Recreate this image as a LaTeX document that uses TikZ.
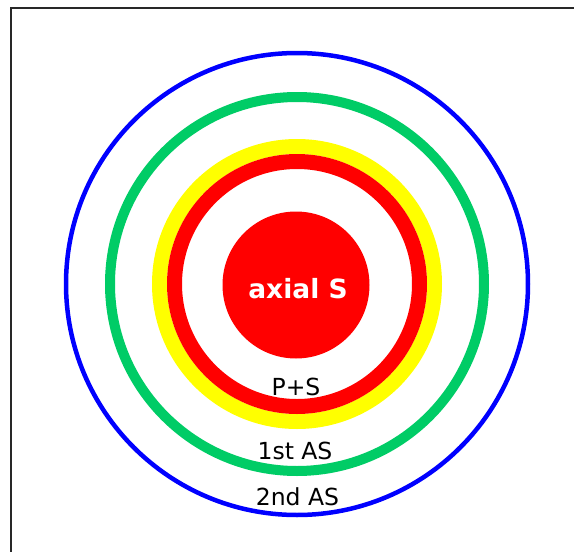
\documentclass[tikz,border=0pt]{standalone}
\usepackage{fontspec}
\setmainfont{DejaVu Sans}
\definecolor{ringblue}{RGB}{0,0,255}
\definecolor{ringgreen}{RGB}{0,204,102}
\definecolor{ringyellow}{RGB}{255,255,0}
\definecolor{ringred}{RGB}{255,0,0}
\definecolor{framegray}{RGB}{40,40,40}
\begin{document}
\begin{tikzpicture}[x=1pt,y=-1pt,
  ring/.style={circle,inner sep=0pt,outer sep=0pt,fill=none},
  lbl/.style={inner sep=0pt,font=\fontsize{23.5}{23.5}\selectfont,text=black}]
\useasboundingbox (0,0) rectangle (574,552);
\fill[white] (0,0) rectangle (574,552);
\draw[framegray,line width=2.5pt] (11,552) -- (11,8) -- (574,8);
\coordinate (c) at (297,284);
\node[ring,draw=ringblue,line width=4.5pt,minimum size=462pt] (blue) at (c) {};
\node[ring,draw=ringgreen,line width=10pt,minimum size=374pt] (green) at (c) {};
\node[ring,draw=ringyellow,line width=15pt,minimum size=275pt] (yellow) at (c) {};
\node[ring,draw=ringred,line width=15pt,minimum size=245pt] (red) at (c) {};
\node[circle,fill=ringred,inner sep=0pt,minimum size=147pt] (core) at (296,285) {};
\node[inner sep=0pt,text=white,font=\fontsize{26.5}{26.5}\selectfont\bfseries] (axial) at (298,289) {axial S};
\node[lbl] (ps) at (296,386.5) {P+S};
\node[lbl] (as1) at (295,451) {1st AS};
\node[lbl] (as2) at (297.5,497) {2nd AS};
\end{tikzpicture}
\end{document}
